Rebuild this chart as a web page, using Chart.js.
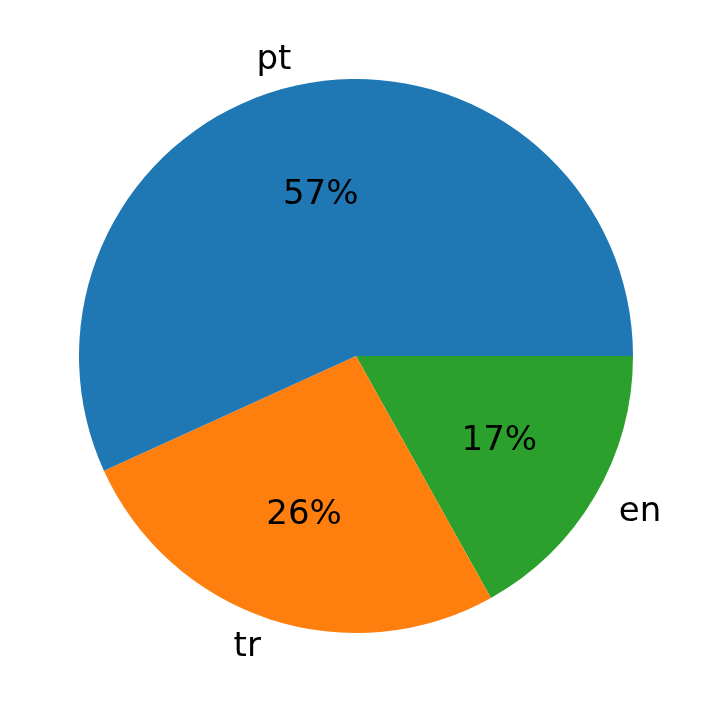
<!DOCTYPE html>
<html>
<head>
<meta charset="utf-8">
<script src="https://cdn.jsdelivr.net/npm/chart.js@4"></script>
<style>
html,body{margin:0;padding:0;background:#fff;}
#wrap{width:712px;height:713px;}
</style>
</head>
<body>
<div id="wrap"><canvas id="c" width="712" height="713"></canvas></div>
<script>
// Data (drawn clockwise in Chart.js, so order is reversed relative to matplotlib's CCW)
const categories = ["en", "tr", "pt"];
const values = [16.9, 26.3, 56.8];
const pctLabels = ["17%", "26%", "57%"];
const colors = ["#2ca02c", "#ff7f0e", "#1f77b4"];

const FONT = '34px "DejaVu Sans", sans-serif';

const labelPlugin = {
  id: 'pieLabels',
  afterDatasetsDraw(chart) {
    const ctx = chart.ctx;
    const meta = chart.getDatasetMeta(0);
    ctx.save();
    ctx.font = FONT;
    ctx.fillStyle = '#000';
    meta.data.forEach((arc, i) => {
      const p = arc.getProps(['x', 'y', 'startAngle', 'endAngle', 'outerRadius'], true);
      const mid = (p.startAngle + p.endAngle) / 2;
      const cx = Math.cos(mid), cy = Math.sin(mid);
      ctx.textAlign = 'center';
      ctx.textBaseline = 'middle';
      ctx.fillText(pctLabels[i], p.x + cx * p.outerRadius * 0.6, p.y + cy * p.outerRadius * 0.6 + 1.5);
      const lx = p.x + cx * p.outerRadius * 1.1;
      const ly = p.y + cy * p.outerRadius * 1.1 + 1.5;
      ctx.textAlign = cx >= 0 ? 'left' : 'right';
      ctx.fillText(categories[i], lx, ly);
    });
    ctx.restore();
  }
};

new Chart(document.getElementById('c'), {
  type: 'pie',
  data: {
    labels: categories,
    datasets: [{
      data: values,
      backgroundColor: colors,
      borderWidth: 0,
      hoverOffset: 0
    }]
  },
  options: {
    responsive: false,
    animation: false,
    rotation: 90,
    layout: { padding: { left: 79, right: 79, top: 79, bottom: 80 } },
    plugins: {
      legend: { display: false },
      tooltip: { enabled: false }
    }
  },
  plugins: [labelPlugin]
});
</script>
</body>
</html>
